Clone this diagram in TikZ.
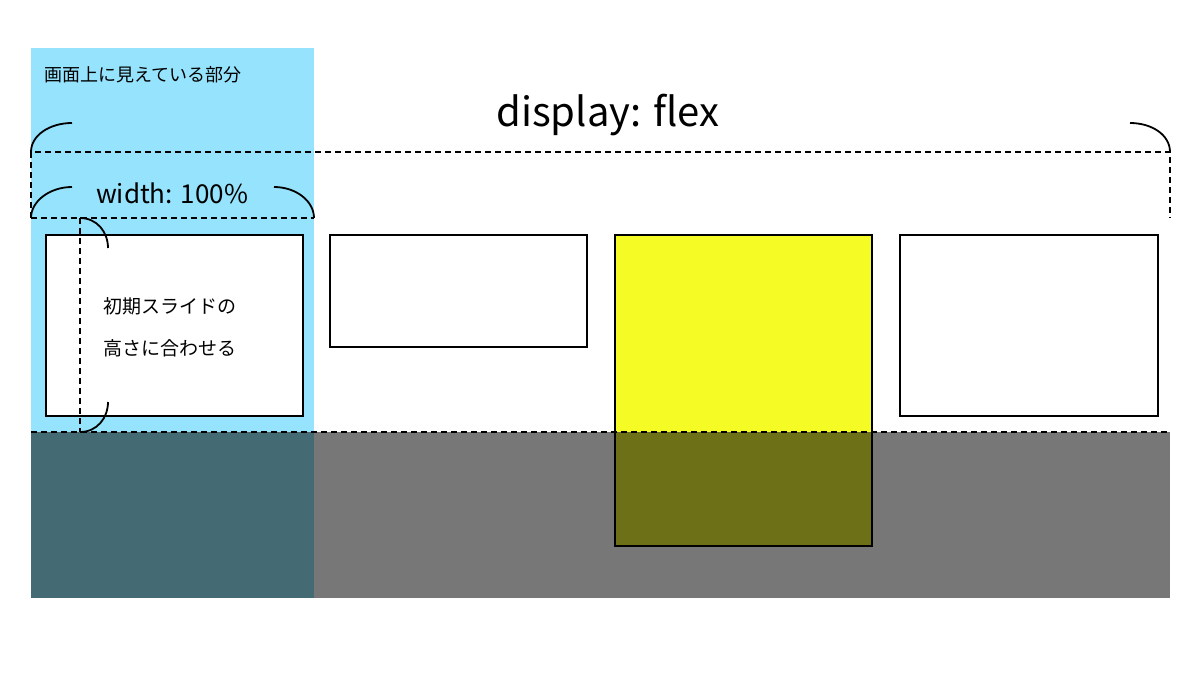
\documentclass[tikz,border=0pt]{standalone}
\usepackage{fontspec}
\setmainfont{Noto Sans CJK JP}
\begin{document}
\begin{tikzpicture}[x=1pt,y=-1pt,
  dashln/.style={black,line width=1.8pt,dash pattern=on 6pt off 4pt},
  box/.style={draw=black,line width=1.8pt,fill=white},
  arcln/.style={black,line width=1.8pt}]
\useasboundingbox (0,0) rectangle (1200,675);
\definecolor{sky}{HTML}{95E3FC}
\definecolor{deep}{HTML}{446A74}
\definecolor{grayb}{HTML}{777777}
\definecolor{yel}{HTML}{F5FC25}
\definecolor{olive}{HTML}{6E7018}
\fill[sky] (31,48) rectangle (314,432);
\fill[deep] (31,432) rectangle (314,598);
\fill[grayb] (314,432) rectangle (1170,598);
\node[box,minimum width=257pt,minimum height=181pt,anchor=north west] (b1) at (45,234) {};
\node[box,minimum width=257pt,minimum height=112pt,anchor=north west] (b2) at (329,234) {};
\fill[yel] (614,234) rectangle (871,432);
\fill[olive] (614,432) rectangle (871,545);
\node[draw=black,line width=1.8pt,minimum width=257pt,minimum height=311pt,anchor=north west] (b3) at (614,234) {};
\node[box,minimum width=258pt,minimum height=181pt,anchor=north west] (b4) at (899,234) {};
% dashed lines
\draw[dashln] (31,218) -- (31,152) -- (1170,152) -- (1170,218);
\draw[dashln] (31,218) -- (314,218);
\draw[dashln] (31,432) -- (1170,432);
\draw[dashln] (80,218) -- (80,432);
% arcs
\draw[arcln] (31,152) .. controls (31,135) and (50,123) .. (72,123);
\draw[arcln] (1130,123) .. controls (1152,123) and (1170,135) .. (1170,152);
\draw[arcln] (31,218) .. controls (31,201) and (50,187) .. (72,187);
\draw[arcln] (274,187) .. controls (296,187) and (314,201) .. (314,218);
\draw[arcln] (80,218) .. controls (97,218) and (108,232) .. (108,248);
\draw[arcln] (108,402) .. controls (108,418) and (97,432) .. (80,432);
% texts
\node[anchor=west,font=\fontsize{18}{20}\selectfont] (t1) at (41,75) {画面上に見えている部分};
\node[font=\fontsize{40}{44}\selectfont] (t2) at (608,115) {display: flex};
\node[font=\fontsize{26}{28}\selectfont] (t3) at (172,193) {width: 100\%};
\node[anchor=west,align=left,font=\fontsize{19}{42}\selectfont] (t4) at (100,327) {初期スライドの\\高さに合わせる};
\end{tikzpicture}
\end{document}
